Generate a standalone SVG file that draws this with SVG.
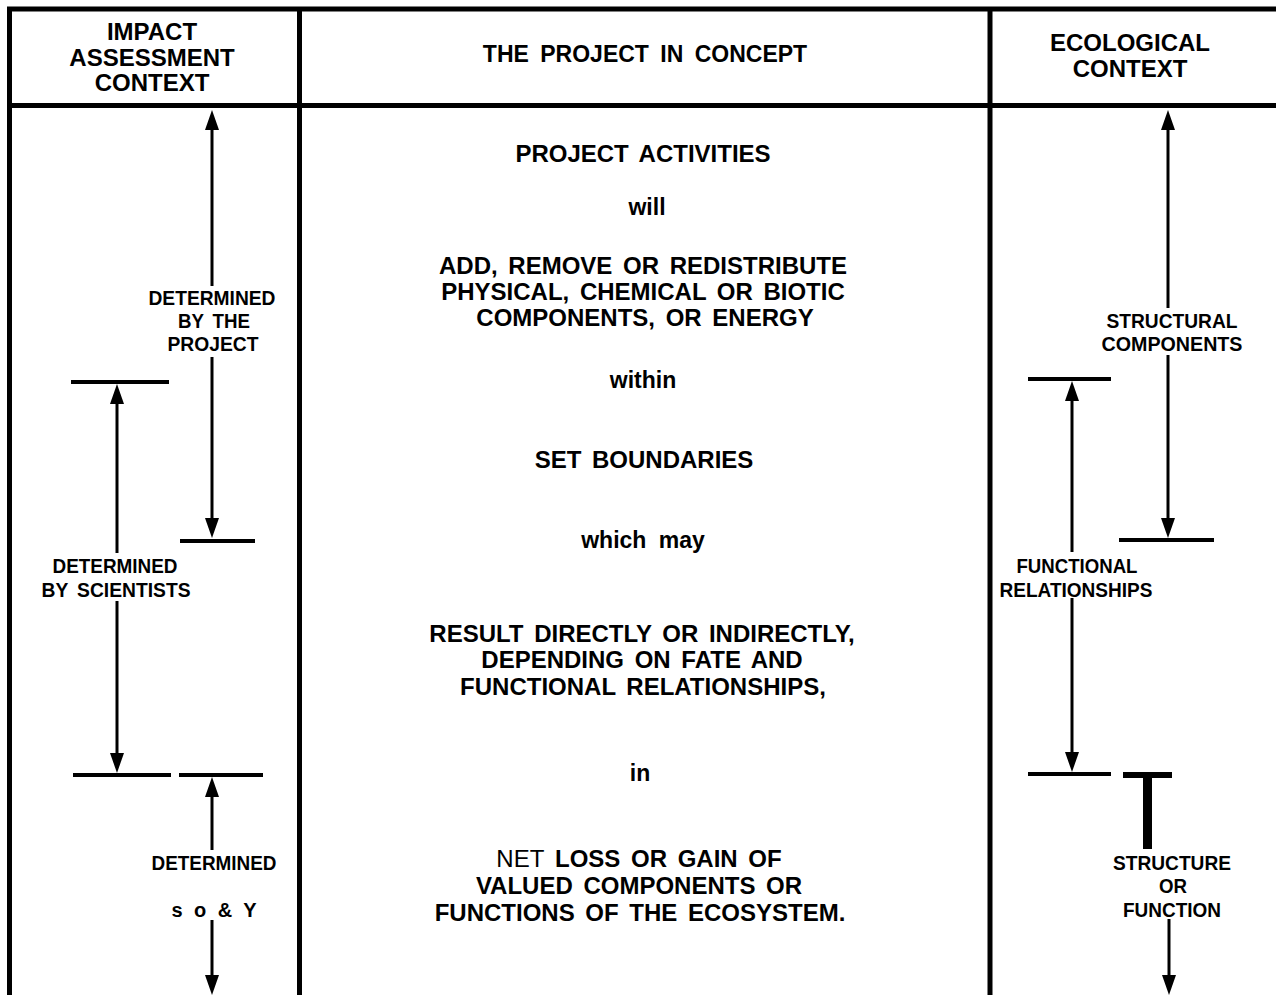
<svg xmlns="http://www.w3.org/2000/svg" width="1276" height="995" viewBox="0 0 1276 995">
<style>
text{font-family:"Liberation Sans",Arial,sans-serif;fill:#000;text-anchor:middle}
.hd{font-size:24px;font-weight:bold}
.mb{font-size:24px;font-weight:bold;word-spacing:4px}
.ml{font-size:23px;font-weight:bold;word-spacing:6px}
.lb{font-size:20px;font-weight:bold}
.frame{stroke:#000;stroke-width:5;fill:none}
.ln{stroke:#000;stroke-width:3;fill:none}
.bar{stroke:#000;stroke-width:4;fill:none}
</style>
<defs>
<marker id="ah" viewBox="0 0 20 14" refX="10" refY="7" markerWidth="20" markerHeight="14" markerUnits="userSpaceOnUse" orient="auto">
<path d="M0,0 L20,7 L0,14 Z" fill="#000"/>
</marker>
</defs>
<rect width="1276" height="995" fill="#fff"/>
<g id="frame">
<path class="frame" d="M7,9 H1276 M7,105.5 H1276 M9.5,7 V995 M299.5,7 V995 M990,7 V995"/>
</g>
<g id="header-impact">
<text class="hd" x="152" y="40">IMPACT</text>
<text class="hd" x="152" y="66">ASSESSMENT</text>
<text class="hd" x="152" y="91">CONTEXT</text>
</g>
<g id="header-concept">
<text class="hd" x="645" y="62" style="font-size:23px;word-spacing:5px">THE PROJECT IN CONCEPT</text>
</g>
<g id="header-ecological">
<text class="hd" x="1130" y="51">ECOLOGICAL</text>
<text class="hd" x="1130" y="77">CONTEXT</text>
</g>
<g id="concept-text">
<text class="mb" x="643" y="162">PROJECT  ACTIVITIES</text>
<text class="ml" x="647" y="215">will</text>
<text class="mb" x="643" y="274">ADD, REMOVE OR REDISTRIBUTE</text>
<text class="mb" x="643" y="300">PHYSICAL, CHEMICAL OR BIOTIC</text>
<text class="mb" x="645" y="326">COMPONENTS, OR ENERGY</text>
<text class="ml" x="643" y="388">within</text>
<text class="mb" x="644" y="468">SET BOUNDARIES</text>
<text class="ml" x="643" y="548">which may</text>
<text class="mb" x="642" y="642">RESULT DIRECTLY OR INDIRECTLY,</text>
<text class="mb" x="642" y="668">DEPENDING ON FATE AND</text>
<text class="mb" x="643" y="695">FUNCTIONAL RELATIONSHIPS,</text>
<text class="ml" x="640" y="781">in</text>
<text class="mb" x="639" y="867"><tspan font-weight="normal">NET</tspan> LOSS OR GAIN OF</text>
<text class="mb" x="639" y="894">VALUED COMPONENTS OR</text>
<text class="mb" x="640" y="921">FUNCTIONS OF THE ECOSYSTEM.</text>
</g>
<g id="label-project">
<text class="lb" x="212" y="305" textLength="127" lengthAdjust="spacingAndGlyphs">DETERMINED</text>
<text class="lb" x="214" y="328" textLength="72" lengthAdjust="spacingAndGlyphs" style="word-spacing:4px">BY THE</text>
<text class="lb" x="213" y="351" textLength="91" lengthAdjust="spacingAndGlyphs">PROJECT</text>
</g>
<g id="label-scientists">
<text class="lb" x="115" y="573" textLength="125" lengthAdjust="spacingAndGlyphs">DETERMINED</text>
<text class="lb" x="116" y="597" textLength="149" lengthAdjust="spacingAndGlyphs" style="word-spacing:4px">BY SCIENTISTS</text>
</g>
<g id="label-society">
<text class="lb" x="214" y="870" textLength="125" lengthAdjust="spacingAndGlyphs">DETERMINED</text>
<text class="lb" x="214" y="917" textLength="85" lengthAdjust="spacing">s o &amp; Y</text>
</g>
<g id="label-structural">
<text class="lb" x="1172" y="328" textLength="131" lengthAdjust="spacingAndGlyphs">STRUCTURAL</text>
<text class="lb" x="1172" y="351" textLength="141" lengthAdjust="spacingAndGlyphs">COMPONENTS</text>
</g>
<g id="label-functional">
<text class="lb" x="1077" y="573" textLength="121" lengthAdjust="spacingAndGlyphs">FUNCTIONAL</text>
<text class="lb" x="1076" y="597" textLength="153" lengthAdjust="spacingAndGlyphs">RELATIONSHIPS</text>
</g>
<g id="label-structure">
<text class="lb" x="1172" y="870" textLength="118" lengthAdjust="spacingAndGlyphs">STRUCTURE</text>
<text class="lb" x="1173" y="893" textLength="28" lengthAdjust="spacingAndGlyphs">OR</text>
<text class="lb" x="1172" y="917" textLength="98" lengthAdjust="spacingAndGlyphs">FUNCTION</text>
</g>
<g id="connectors">
<line class="ln" x1="212" y1="286" x2="212" y2="120" marker-end="url(#ah)"/>
<line class="ln" x1="212" y1="357" x2="212" y2="528" marker-end="url(#ah)"/>
<line class="bar" x1="180" y1="541" x2="255" y2="541"/>
<line class="bar" x1="71" y1="382" x2="169" y2="382"/>
<line class="ln" x1="117" y1="553" x2="117" y2="394" marker-end="url(#ah)"/>
<line class="ln" x1="117" y1="601" x2="117" y2="763" marker-end="url(#ah)"/>
<line class="bar" x1="73" y1="775" x2="171" y2="775"/>
<line class="bar" x1="179" y1="775" x2="263" y2="775"/>
<line class="ln" x1="212" y1="850" x2="212" y2="787" marker-end="url(#ah)"/>
<line class="ln" x1="212" y1="920" x2="212" y2="985" marker-end="url(#ah)"/>
<line class="ln" x1="1168" y1="308" x2="1168" y2="120" marker-end="url(#ah)"/>
<line class="ln" x1="1168" y1="355" x2="1168" y2="528" marker-end="url(#ah)"/>
<line class="bar" x1="1119" y1="540" x2="1214" y2="540"/>
<line class="bar" x1="1028" y1="379" x2="1111" y2="379"/>
<line class="ln" x1="1072" y1="552" x2="1072" y2="391" marker-end="url(#ah)"/>
<line class="ln" x1="1072" y1="598" x2="1072" y2="762" marker-end="url(#ah)"/>
<line class="bar" x1="1028" y1="774" x2="1111" y2="774"/>
<line x1="1123" y1="775" x2="1172" y2="775" stroke="#000" stroke-width="6"/>
<line x1="1147.5" y1="775" x2="1147.5" y2="849" stroke="#000" stroke-width="9"/>
<line class="ln" x1="1169" y1="919" x2="1169" y2="985" marker-end="url(#ah)"/>
</g>
</svg>
